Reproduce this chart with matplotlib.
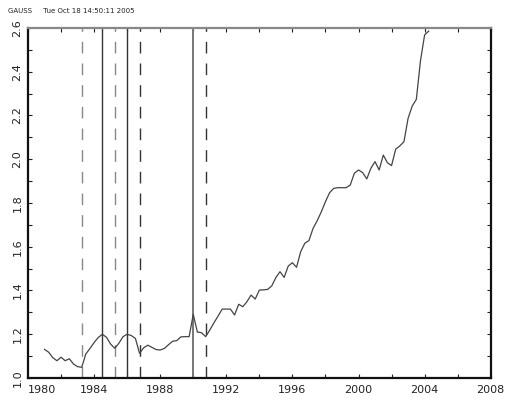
import numpy as np
import matplotlib
matplotlib.use('Agg')
import matplotlib.pyplot as plt
from matplotlib.ticker import MultipleLocator

# quarterly series
years = np.arange(1981.0, 2004.26, 0.25)
values = [1.131, 1.118, 1.093, 1.079, 1.095, 1.079, 1.088, 1.064,
          1.052, 1.049, 1.110, 1.135, 1.162, 1.185, 1.200, 1.186,
          1.155, 1.136, 1.159, 1.189, 1.200, 1.194, 1.181, 1.113,
          1.138, 1.150, 1.140, 1.130, 1.128, 1.135, 1.152, 1.168,
          1.171, 1.188, 1.189, 1.189, 1.291, 1.210, 1.207, 1.189,
          1.219, 1.252, 1.283, 1.315, 1.315, 1.315, 1.288, 1.337,
          1.326, 1.349, 1.379, 1.361, 1.402, 1.403, 1.405, 1.421,
          1.459, 1.486, 1.460, 1.512, 1.527, 1.506, 1.577, 1.616,
          1.628, 1.684, 1.719, 1.760, 1.806, 1.847, 1.867, 1.870,
          1.870, 1.870, 1.882, 1.936, 1.951, 1.939, 1.910, 1.959,
          1.989, 1.951, 2.019, 1.984, 1.971, 2.046, 2.061, 2.080,
          2.187, 2.243, 2.274, 2.450, 2.568, 2.586]

solid_dates = [1984.5, 1986.0, 1990.0]
solid_colors = ['#333333', '#333333', '#777777']
dashed_dates = [1983.25, 1985.25, 1986.75, 1990.75]
dashed_colors = ['#888888', '#888888', '#333333', '#333333']

xticks = list(range(1980, 2009, 4))
header = 'GAUSS     Tue Oct 18 14:50:11 2005'

fig = plt.figure(figsize=(5.07, 4.0), dpi=100)
ax = fig.add_axes([28 / 507, 22 / 400, (490.7 - 28) / 507, 350 / 400])

for d, c in zip(dashed_dates, dashed_colors):
    ax.axvline(d, color=c, lw=1.0, linestyle=(0, (8.4, 7.2)))
for d, c in zip(solid_dates, solid_colors):
    ax.axvline(d, color=c, lw=1.0 if c == '#333333' else 1.4)

ax.plot(years, values, color='#444444', lw=0.9)

ax.set_xlim(1980, 2008)
ax.set_ylim(1.0, 2.6)
ax.set_xticks(xticks)
ax.set_xticklabels([str(t) for t in xticks])
ax.xaxis.set_minor_locator(MultipleLocator(2))
ax.yaxis.set_major_locator(MultipleLocator(0.2))
ax.yaxis.set_minor_locator(MultipleLocator(0.1))
ax.yaxis.set_major_formatter(matplotlib.ticker.FormatStrFormatter('%.1f'))

ax.tick_params(which='both', direction='in', length=3, width=0.8,
               top=True, right=True, labelsize=8, colors='#222222')
ax.tick_params(axis='x', pad=5)
ax.tick_params(axis='y', pad=4)
for lab in ax.get_yticklabels():
    lab.set_rotation(90)
    lab.set_verticalalignment('center')
ax.get_xticklabels()[0].set_horizontalalignment('left')

for side in ['left', 'bottom', 'right']:
    ax.spines[side].set_linewidth(1.6)
    ax.spines[side].set_color('#111111')
ax.spines['top'].set_linewidth(1.6)
ax.spines['top'].set_color('#888888')

fig.text(8 / 507, 1 - 11 / 400, header, fontsize=5, color='#222222',
         va='center', ha='left')

fig.savefig('out.png', dpi=100)
